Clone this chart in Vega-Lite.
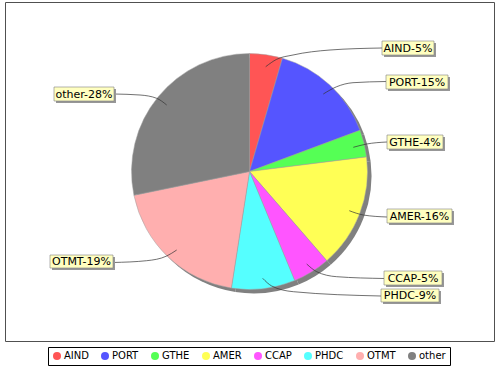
{
  "$schema": "https://vega.github.io/schema/vega-lite/v6.json",
  "autosize": "none",
  "width": 489,
  "height": 339,
  "padding": {"left": 5, "top": 2, "right": 6, "bottom": 29},
  "background": "white",
  "view": {"stroke": "#505050", "strokeWidth": 1, "fill": "white"},
  "config": {"font": "DejaVu Sans"},
  "datasets": {
    "slices": [
      {"i": 1, "name": "AIND", "v": 4.5},
      {"i": 2, "name": "PORT", "v": 14.8},
      {"i": 3, "name": "GTHE", "v": 3.7},
      {"i": 4, "name": "AMER", "v": 15.6},
      {"i": 5, "name": "CCAP", "v": 5.1},
      {"i": 6, "name": "PHDC", "v": 8.7},
      {"i": 7, "name": "OTMT", "v": 19.3},
      {"i": 8, "name": "other", "v": 28.2}
    ],
    "labels": [
      {"label": "AIND-5%", "x1": 132.5, "x2": 184.5, "y1": 130.5, "y2": 116.5},
      {"label": "PORT-15%", "x1": 136.5, "x2": 198.5, "y1": 96.5, "y2": 82.5},
      {"label": "GTHE-4%", "x1": 137.5, "x2": 193.5, "y1": 36.5, "y2": 22.5},
      {"label": "AMER-16%", "x1": 137.5, "x2": 202.5, "y1": -37.5, "y2": -51.5},
      {"label": "CCAP-5%", "x1": 134.5, "x2": 192.5, "y1": -99.5, "y2": -113.5},
      {"label": "PHDC-9%", "x1": 131.5, "x2": 189.5, "y1": -117.5, "y2": -130.5},
      {"label": "other-28%", "x1": -195.5, "x2": -135.5, "y1": 84.5, "y2": 70.5},
      {"label": "OTMT-19%", "x1": -199.5, "x2": -136.5, "y1": -83.5, "y2": -96.5}
    ],
    "links": [
      {"name": "AIND", "i": 1, "x": 16.2, "y": 104.8},
      {"name": "AIND", "i": 2, "x": 27.2, "y": 112.2},
      {"name": "AIND", "i": 3, "x": 43.5, "y": 116.5},
      {"name": "AIND", "i": 4, "x": 80.5, "y": 121.5},
      {"name": "AIND", "i": 5, "x": 132.5, "y": 123.5},
      {"name": "PORT", "i": 1, "x": 73.8, "y": 77.5},
      {"name": "PORT", "i": 2, "x": 87.2, "y": 84.8},
      {"name": "PORT", "i": 3, "x": 103.5, "y": 88.8},
      {"name": "PORT", "i": 4, "x": 136.5, "y": 90},
      {"name": "GTHE", "i": 1, "x": 103.8, "y": 24.2},
      {"name": "GTHE", "i": 2, "x": 117.2, "y": 27.5},
      {"name": "GTHE", "i": 3, "x": 137.5, "y": 29.5},
      {"name": "AMER", "i": 1, "x": 99.8, "y": -39.2},
      {"name": "AMER", "i": 2, "x": 113.8, "y": -43.5},
      {"name": "AMER", "i": 3, "x": 137.5, "y": -45.5},
      {"name": "CCAP", "i": 1, "x": 57.2, "y": -92.5},
      {"name": "CCAP", "i": 2, "x": 67.2, "y": -100.2},
      {"name": "CCAP", "i": 3, "x": 87.2, "y": -105.2},
      {"name": "CCAP", "i": 4, "x": 134.5, "y": -107},
      {"name": "PHDC", "i": 1, "x": 13.2, "y": -106.8},
      {"name": "PHDC", "i": 2, "x": 22.2, "y": -114.5},
      {"name": "PHDC", "i": 3, "x": 43.8, "y": -120.2},
      {"name": "PHDC", "i": 4, "x": 131.5, "y": -124.5},
      {"name": "other", "i": 1, "x": -82.8, "y": 66.5},
      {"name": "other", "i": 2, "x": -92.8, "y": 73.2},
      {"name": "other", "i": 3, "x": -109.5, "y": 76.5},
      {"name": "other", "i": 4, "x": -135.5, "y": 77.5},
      {"name": "OTMT", "i": 1, "x": -72.8, "y": -78.5},
      {"name": "OTMT", "i": 2, "x": -82.8, "y": -84.5},
      {"name": "OTMT", "i": 3, "x": -102.8, "y": -89.2},
      {"name": "OTMT", "i": 4, "x": -136.5, "y": -91}
    ]
  },
  "layer": [
    {
      "data": {"name": "slices"},
      "mark": {"type": "arc", "outerRadius": 118, "fill": "#808080", "xOffset": 4, "yOffset": 4},
      "encoding": {
        "theta": {"field": "v", "type": "quantitative", "stack": true},
        "order": {"field": "i", "type": "quantitative"}
      }
    },
    {
      "data": {"name": "slices"},
      "mark": {"type": "arc", "outerRadius": 118, "stroke": "#a0a0a0", "strokeWidth": 0.5},
      "encoding": {
        "theta": {"field": "v", "type": "quantitative", "stack": true},
        "order": {"field": "i", "type": "quantitative"},
        "color": {
          "field": "name",
          "type": "nominal",
          "scale": {
            "domain": ["AIND", "PORT", "GTHE", "AMER", "CCAP", "PHDC", "OTMT", "other"],
            "range": ["#FF5555", "#5555FF", "#55FF55", "#FFFF55", "#FF55FF", "#55FFFF", "#FFAFAF", "#808080"]
          },
          "legend": {
            "title": null,
            "orient": "none",
            "legendX": 43,
            "legendY": 345,
            "direction": "horizontal",
            "symbolType": "circle",
            "symbolSize": 64,
            "symbolStrokeWidth": 0,
            "labelFont": "DejaVu Sans",
            "labelFontSize": 10,
            "labelColor": "black",
            "labelOffset": 2,
            "columnPadding": 11,
            "padding": 4,
            "strokeColor": "black",
            "fillColor": "white"
          }
        }
      }
    },
    {
      "data": {"name": "links"},
      "mark": {"type": "line", "interpolate": "monotone", "stroke": "#333333", "strokeWidth": 0.7},
      "encoding": {
        "x": {"field": "x", "type": "quantitative", "scale": {"domain": [-244.5, 244.5], "nice": false, "zero": false}, "axis": null},
        "y": {"field": "y", "type": "quantitative", "scale": {"domain": [-169.5, 169.5], "nice": false, "zero": false}, "axis": null},
        "detail": {"field": "name"},
        "order": {"field": "i", "type": "quantitative"}
      }
    },
    {
      "data": {"name": "labels"},
      "mark": {"type": "rect", "fill": "#979797", "xOffset": 2, "x2Offset": 2, "yOffset": 2, "y2Offset": 2},
      "encoding": {
        "x": {"field": "x1", "type": "quantitative"},
        "x2": {"field": "x2"},
        "y": {"field": "y1", "type": "quantitative"},
        "y2": {"field": "y2"}
      }
    },
    {
      "data": {"name": "labels"},
      "mark": {"type": "rect", "fill": "#FFFFC0", "stroke": "#808080", "strokeWidth": 0.6},
      "encoding": {
        "x": {"field": "x1", "type": "quantitative"},
        "x2": {"field": "x2"},
        "y": {"field": "y1", "type": "quantitative"},
        "y2": {"field": "y2"}
      }
    },
    {
      "data": {"name": "labels"},
      "transform": [
        {"calculate": "(datum.x1 + datum.x2) / 2", "as": "tx"},
        {"calculate": "(datum.y1 + datum.y2) / 2", "as": "ty"}
      ],
      "mark": {"type": "text", "font": "DejaVu Sans", "fontSize": 11, "color": "black", "align": "center", "baseline": "middle", "dy": 0.5},
      "encoding": {
        "x": {"field": "tx", "type": "quantitative"},
        "y": {"field": "ty", "type": "quantitative"},
        "text": {"field": "label"}
      }
    }
  ]
}
